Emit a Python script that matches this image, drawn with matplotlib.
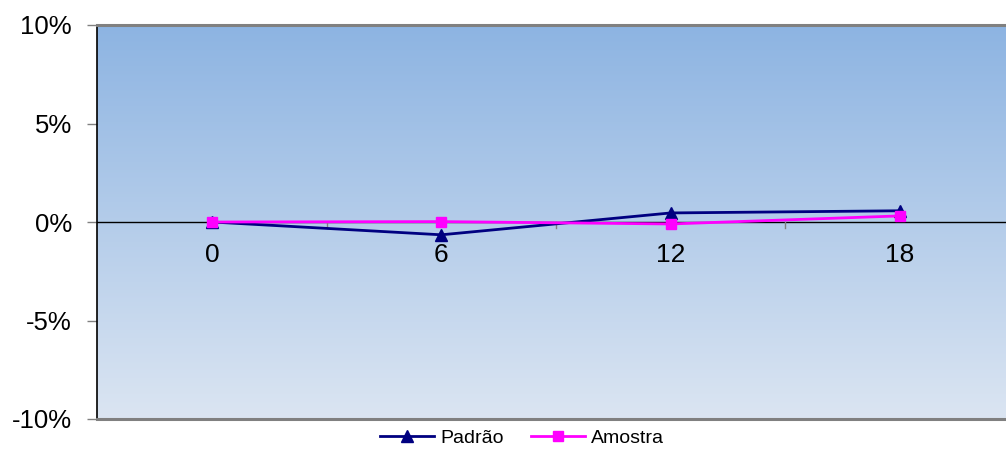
import numpy as np
import matplotlib.pyplot as plt
from matplotlib.colors import LinearSegmentedColormap
from matplotlib.ticker import PercentFormatter

# monthly variation, in fraction (0.01 = 1%)
months = ["0", "6", "12", "18"]
padrao = [0.0, -0.0065, 0.0046, 0.0057]
amostra = [0.0, 0.0002, -0.0010, 0.0031]

plt.rcParams["font.family"] = ["Liberation Sans", "DejaVu Sans"]
plt.rcParams["axes.unicode_minus"] = False

fig = plt.figure(figsize=(10.06, 4.5), dpi=100)
ax = fig.add_axes([97 / 1006, 31 / 450, 1 - 97 / 1006, 394 / 450])

x = np.arange(len(months))
ax.set_xlim(-0.5015, 3.462)
ax.set_ylim(-0.10, 0.10)

# blue vertical gradient background
grad = LinearSegmentedColormap.from_list("bg", ["#dbe5f2", "#8db4e2"])
ax.imshow(np.linspace(0, 1, 256).reshape(-1, 1), cmap=grad, aspect="auto",
          extent=[-0.5015, 3.462, -0.10, 0.10], origin="lower", zorder=0)

# horizontal axis at 0 with category separators
ax.axhline(0, color="black", lw=1.0, zorder=2)
for b in [0.5, 1.5, 2.5]:
    ax.plot([b, b], [0, -0.0028], color="#808080", lw=1.0, zorder=2)
for xi, lab in zip(x, months):
    ax.text(xi, -0.0105, lab, ha="center", va="top", fontsize=19)

ax.plot(x, padrao, color="#000080", lw=2, marker="^", ms=8, label="Padrão", zorder=3)
ax.plot(x, amostra, color="#ff00ff", lw=2, marker="s", ms=7, label="Amostra", zorder=4)

ax.set_yticks([-0.10, -0.05, 0, 0.05, 0.10])
ax.yaxis.set_major_formatter(PercentFormatter(1.0, decimals=0))
ax.tick_params(axis="y", direction="out", length=7, width=1, color="#808080",
               labelsize=18.5, pad=11)
ax.set_xticks([])

ax.spines["right"].set_visible(False)
ax.spines["left"].set_color("black")
ax.spines["left"].set_linewidth(1.2)
for s in ["top", "bottom"]:
    ax.spines[s].set_color("#808080")
    ax.spines[s].set_linewidth(2.2)

fig.legend(loc="center", bbox_to_anchor=(0.519, 0.027), ncol=2, frameon=False,
           fontsize=14, handlelength=2.8, handletextpad=0.3, columnspacing=1.4)

fig.savefig("out.png", dpi=100)
